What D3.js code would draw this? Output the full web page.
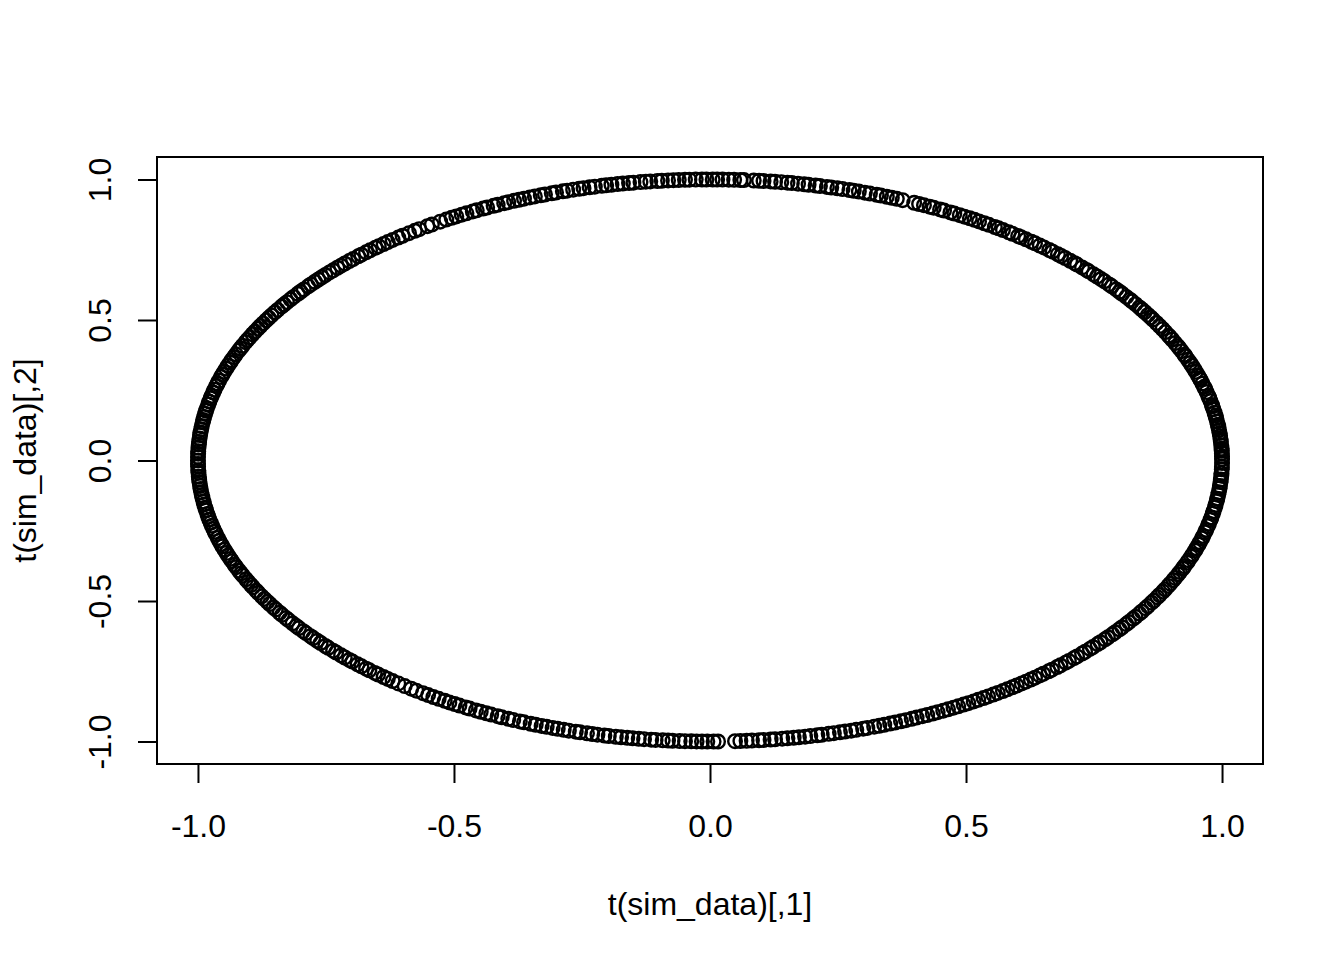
<!DOCTYPE html>
<html>
<head>
<meta charset="utf-8">
<script src="https://cdn.jsdelivr.net/npm/d3@7"></script>
<style>
  body { margin: 0; background: #fff; }
  text { font-family: "Liberation Sans", Arial, sans-serif; }
</style>
</head>
<body>
<div id="chart"></div>
<script>
// points sit on the unit circle; angle of each point (degrees)
var angleDeg = [
  0.3, 0.8, 1.5, 2.0, 2.4, 3.1, 3.9, 4.3, 5.0, 5.6, 6.2, 6.9, 7.3, 8.0, 8.7, 9.2, 9.8,
  10.5, 11.1, 11.4, 12.2, 12.9, 13.3, 14.1, 14.8, 15.2, 15.9, 16.7, 17.0, 17.6, 18.4, 19.0, 19.7,
  20.3, 21.0, 21.8, 22.1, 22.9, 23.6, 24.0, 24.7, 25.5, 26.1, 26.4, 27.2, 27.9, 28.6, 29.3,
  30.1, 30.6, 31.2, 31.9, 32.5, 33.0, 33.8, 34.5, 34.9, 35.6, 36.4, 36.9, 37.5, 38.3, 38.8, 39.6,
  40.2, 40.9, 41.5, 42.3, 42.7, 43.4, 44.2, 44.6, 45.3, 46.1, 46.7, 47.2, 48.0, 48.5, 49.3, 49.9,
  50.6, 51.1, 51.9, 52.6, 53.0, 53.8, 54.3, 55.1, 55.7, 56.2, 57.0, 57.6, 58.3, 58.9, 59.5,
  60.2, 60.8, 61.5, 62.0, 62.8, 63.3, 64.1, 64.6, 65.3, 65.9, 66.5, 67.9, 68.6, 69.2, 69.8,
  70.5, 71.0, 71.8, 72.4, 73.1, 73.7, 74.2, 75.0, 75.6, 76.3, 76.8, 77.6, 78.1, 78.9, 79.4,
  80.1, 80.8, 81.3, 82.0, 82.7, 83.2, 84.0, 84.5, 85.1, 86.2, 86.6, 87.3, 87.9, 88.6, 89.2, 89.7,
  90.4, 90.9, 91.6, 92.3, 92.8, 93.5, 94.1, 94.7, 95.4, 95.9, 96.7, 97.2, 97.8, 98.6, 99.1, 99.8,
  100.4, 101.1, 101.7, 102.2, 103.0, 103.6, 104.3, 104.8, 105.5, 106.2, 106.7, 107.5, 108.0, 108.8, 109.3,
  110.0, 110.6, 111.3, 111.9, 112.5, 113.2, 113.7, 114.5, 115.0, 115.8, 116.3, 117.1, 117.6, 118.4, 119.0, 119.7,
  120.3, 121.0, 121.8, 122.9, 123.5, 124.6, 125.2, 126.0, 126.9, 127.5, 128.3, 129.0, 129.6,
  130.3, 130.8, 131.6, 132.2, 132.9, 133.4, 134.2, 134.8, 135.5, 136.1, 136.7, 137.4, 138.0, 138.7, 139.3, 139.9,
  140.5, 141.2, 141.7, 142.5, 143.1, 143.6, 144.4, 145.0, 145.7, 146.3, 146.8, 147.6, 148.2, 148.9, 149.5,
  150.1, 150.8, 151.4, 152.0, 152.7, 153.3, 154.0, 154.6, 155.1, 155.9, 156.5, 157.0, 157.8, 158.4, 159.1, 159.6,
  160.3, 160.9, 161.6, 162.2, 162.7, 163.5, 164.1, 164.6, 165.4, 166.0, 166.7, 167.2, 167.9, 168.5, 169.3, 169.8,
  170.4, 171.1, 171.7, 172.2, 173.0, 173.6, 174.3, 174.8, 175.5, 176.2, 176.7, 177.4, 178.1, 178.6, 179.3,
  180.0, 180.7, 181.2, 182.0, 182.5, 183.3, 183.9, 184.4, 185.2, 185.8, 186.5, 187.1, 187.6, 188.4, 189.0, 189.7,
  190.2, 191.0, 191.5, 192.1, 192.8, 193.4, 194.1, 194.7, 195.2, 196.0, 196.6, 197.3, 197.8, 198.5, 199.2, 199.8,
  200.5, 201.0, 201.8, 202.3, 203.1, 203.7, 204.2, 205.0, 205.6, 206.3, 206.8, 207.6, 208.1, 208.9, 209.5,
  210.2, 210.7, 211.5, 212.0, 212.8, 213.3, 214.1, 214.6, 215.4, 216.1, 216.6, 217.4, 217.9, 218.7, 219.2, 219.9,
  220.5, 221.3, 221.8, 222.6, 223.1, 223.9, 224.5, 225.2, 225.7, 226.5, 227.1, 227.8, 228.3, 229.1, 229.6,
  230.4, 231.0, 231.7, 232.5, 233.4, 234.3, 235.0, 235.9, 236.6, 237.3, 238.0, 238.8, 239.4,
  240.1, 240.7, 241.5, 242.0, 242.8, 243.4, 244.1, 244.7, 245.5, 246.0, 246.8, 247.4, 248.2, 248.7, 249.5,
  250.1, 250.8, 251.4, 252.1, 252.7, 253.4, 254.0, 254.8, 255.3, 256.1, 256.7, 257.3, 258.1, 258.6, 259.4,
  260.0, 260.7, 261.3, 262.0, 262.6, 263.4, 263.9, 264.7, 265.3, 265.8, 266.6, 267.2, 267.9, 268.5, 269.1, 269.7, 270.4,
  270.9, 272.8, 273.4, 274.1, 274.7, 275.5, 276.0, 276.8, 277.3, 278.1, 278.7, 279.4,
  280.0, 280.7, 281.3, 282.1, 282.6, 283.4, 284.0, 284.7, 285.3, 286.0, 286.6, 287.4, 287.9, 288.7, 289.3, 289.9,
  290.6, 291.2, 291.9, 292.5, 293.2, 293.8, 294.5, 295.1, 295.8, 296.4, 297.1, 297.7, 298.4, 299.0, 299.7,
  300.3, 301.0, 301.6, 302.3, 302.9, 303.6, 304.2, 304.9, 305.5, 306.2, 306.8, 307.5, 308.1, 308.8, 309.4,
  310.1, 310.6, 311.4, 311.9, 312.7, 313.2, 314.0, 314.5, 315.3, 315.8, 316.6, 317.1, 317.9, 318.4, 319.2, 319.7,
  320.5, 321.0, 321.8, 322.3, 323.1, 323.6, 324.4, 324.9, 325.7, 326.2, 327.0, 327.5, 328.3, 328.8, 329.6,
  330.1, 330.9, 331.4, 332.2, 332.7, 333.5, 334.0, 334.8, 335.3, 336.1, 336.6, 337.4, 337.9, 338.7, 339.2,
  340.0, 340.5, 341.3, 341.8, 342.6, 343.1, 343.9, 344.4, 345.2, 345.7, 346.5, 347.0, 347.8, 348.3, 349.1, 349.6,
  350.4, 350.9, 351.7, 352.2, 353.0, 353.5, 354.3, 354.8, 355.6, 356.1, 356.9, 357.4, 358.2, 358.7, 359.5
];

var xTicks = [-1.0, -0.5, 0.0, 0.5, 1.0];
var yTicks = [-1.0, -0.5, 0.0, 0.5, 1.0];
var xTitle = "t(sim_data)[,1]";
var yTitle = "t(sim_data)[,2]";

var fullWidth = 1344;
var fullHeight = 960;
var margin = { left: 157, right: 81, top: 157, bottom: 196 };
var width = fullWidth - margin.left - margin.right;
var height = fullHeight - margin.top - margin.bottom;

var points = angleDeg.map(function (a) {
  var r = a * Math.PI / 180;
  return { x: Math.cos(r), y: Math.sin(r) };
});

// R prints a plain hyphen for the minus sign
var fmt = function (v) { return v.toFixed(1); };

var svg = d3.select("#chart").append("svg")
  .attr("width", fullWidth)
  .attr("height", fullHeight)
  .style("background", "#fff");

var g = svg.append("g")
  .attr("transform", "translate(" + margin.left + "," + margin.top + ")");

// R pads the data range by 4% on each side
var x = d3.scaleLinear().domain([-1.08, 1.08]).range([0, width]);
var y = d3.scaleLinear().domain([-1.08, 1.08]).range([height, 0]);

// points (open circles, like pch = 1)
g.append("g")
  .selectAll("circle")
  .data(points)
  .enter()
  .append("circle")
  .attr("cx", function (d) { return x(d.x); })
  .attr("cy", function (d) { return y(d.y); })
  .attr("r", 6.8)
  .attr("fill", "none")
  .attr("stroke", "#000")
  .attr("stroke-width", 2.4);

// box
g.append("rect")
  .attr("x", 0).attr("y", 0)
  .attr("width", width).attr("height", height)
  .attr("fill", "none")
  .attr("stroke", "#000")
  .attr("stroke-width", 2);

// x axis
var xAxis = g.append("g")
  .attr("transform", "translate(0," + height + ")")
  .call(d3.axisBottom(x).tickValues(xTicks).tickFormat(fmt).tickSize(19).tickSizeOuter(0));
xAxis.select(".domain").remove();
xAxis.selectAll(".tick line").attr("stroke", "#000").attr("stroke-width", 2);
xAxis.selectAll(".tick text")
  .attr("y", 73).attr("dy", 0)
  .attr("fill", "#000")
  .style("font-size", "32px")
  .style("font-family", "'Liberation Sans', Arial, sans-serif");

// y axis, labels turned like R's las = 0
var yAxis = g.append("g")
  .call(d3.axisLeft(y).tickValues(yTicks).tickFormat(fmt).tickSize(19).tickSizeOuter(0));
yAxis.select(".domain").remove();
yAxis.selectAll(".tick line").attr("stroke", "#000").attr("stroke-width", 2);
yAxis.selectAll(".tick text")
  .attr("transform", "rotate(-90)")
  .attr("x", 0).attr("y", -46).attr("dy", 0)
  .attr("text-anchor", "middle")
  .attr("fill", "#000")
  .style("font-size", "32px")
  .style("font-family", "'Liberation Sans', Arial, sans-serif");

// axis titles
svg.append("text")
  .attr("x", margin.left + width / 2)
  .attr("y", 915)
  .attr("text-anchor", "middle")
  .style("font-size", "32px")
  .text(xTitle);

svg.append("text")
  .attr("transform", "translate(36," + (margin.top + height / 2) + ") rotate(-90)")
  .attr("text-anchor", "middle")
  .style("font-size", "32px")
  .text(yTitle);
</script>
</body>
</html>
